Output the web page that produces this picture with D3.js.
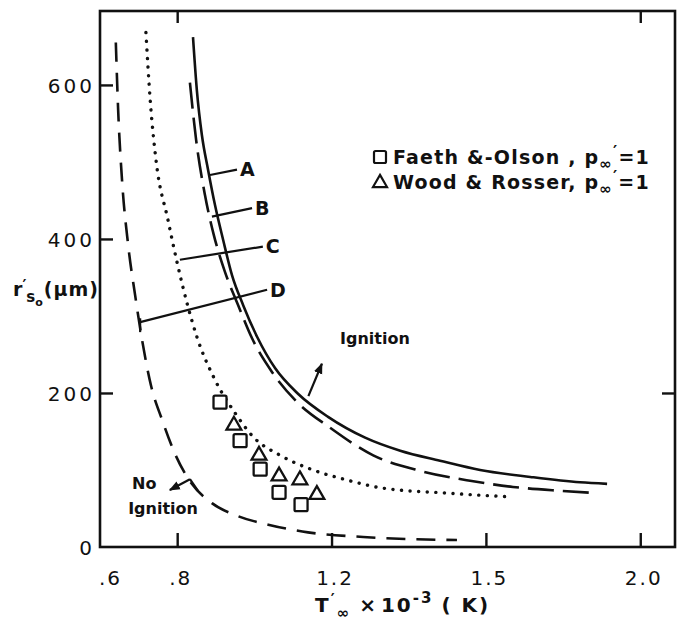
<!DOCTYPE html>
<html><head><meta charset="utf-8">
<script src="https://cdn.jsdelivr.net/npm/d3@7"></script>
<style>
body{margin:0;background:#fff;}
text{font-family:"DejaVu Sans",sans-serif;fill:#111;}
</style></head>
<body><svg id="c" width="682" height="623"></svg>
<script>
// ---- data ----
const xTickValues = [0.6, 0.8, 1.2, 1.6, 2.0];
const xTickLabels = [".6", ".8", "1.2", "1.5", "2.0"];
const yTickValues = [0, 200, 400, 600];
const yTickLabels = ["0", "200", "400", "600"];

const curveA = [[0.841,662],[0.851,593],[0.864,535],[0.880,490],[0.898,444],[0.919,399],[0.942,353],[0.971,314],[1.007,273],[1.054,232],[1.113,199],[1.191,169],[1.287,142],[1.378,125],[1.481,112],[1.585,100],[1.715,91],[1.844,84],[1.914,82]];
const curveB = [[0.833,603],[0.849,529],[0.872,457],[0.895,405],[0.924,357],[0.958,314],[0.994,271],[1.046,227],[1.111,188],[1.196,155],[1.308,119],[1.429,99],[1.559,86],[1.670,78],[1.792,73],[1.888,70]];
const curveC = [[0.719,668],[0.730,581],[0.745,503],[0.776,425],[0.800,369],[0.828,312],[0.851,273],[0.898,217],[0.950,174],[0.997,143],[1.067,119],[1.152,100],[1.240,87],[1.326,77],[1.499,70],[1.668,65]];
const curveD = [[0.641,655],[0.647,568],[0.657,477],[0.673,392],[0.691,327],[0.709,269],[0.732,210],[0.761,165],[0.797,118],[0.838,82],[0.890,57],[0.958,40],[1.036,29],[1.139,19],[1.282,13],[1.525,9]];

const faethOlson = [[0.911,188],[0.963,138],[1.015,101],[1.064,71],[1.121,55]];
const woodRosser = [[0.947,158],[1.012,119],[1.064,92],[1.118,87],[1.162,68]];

const curveLabels = [
  {name:"A", from:[0.885,483], to:[0.955,490]},
  {name:"B", from:[0.890,429], to:[0.994,440]},
  {name:"C", from:[0.807,373], to:[1.022,390]},
  {name:"D", from:[0.704,292], to:[1.033,334]}
];
const dTick = [[0.704,297],[0.704,279]];
const ignitionArrow = [[1.140,196],[1.175,238]];
const noIgnitionArrow = [[0.833,88],[0.781,74]];
const noIgnitionChevron = [[0.833,88],[0.854,73]];

// ---- layout ----
const svg = d3.select("#c");
const W = 682, H = 623;
const m = {left:100, top:11, right:7, bottom:76};
const x = d3.scaleLinear().domain([0.6, 2.09]).range([m.left, W - m.right]);
const y = d3.scaleLinear().domain([0, 696]).range([H - m.bottom, m.top]);

svg.append("defs").append("marker")
  .attr("id","ah").attr("viewBox","0 0 10 10").attr("refX",9).attr("refY",5)
  .attr("markerWidth",5).attr("markerHeight",5).attr("orient","auto")
  .append("path").attr("d","M0,1 L10,5 L0,9 z").attr("fill","#111");

// frame
svg.append("rect").attr("x",x.range()[0]).attr("y",y.range()[1])
  .attr("width",x.range()[1]-x.range()[0]).attr("height",y.range()[0]-y.range()[1])
  .attr("fill","none").attr("stroke","#111").attr("stroke-width",2.6);

// axes (inward ticks)
const xAxis = d3.axisBottom(x).tickValues(xTickValues).tickSize(-14)
  .tickFormat((d,i)=>xTickLabels[i]).tickPadding(24);
const gx = svg.append("g").attr("transform",`translate(0,${y(0)})`).call(xAxis);
gx.select(".domain").remove();
gx.selectAll(".tick line").attr("stroke","#111").attr("stroke-width",2.4)
  .filter(d=>d===0.6).remove();
gx.selectAll(".tick text").attr("font-size",20).attr("letter-spacing",2)
  .attr("dx",d=>d===0.6?10:3);

const yAxis = d3.axisLeft(y).tickValues(yTickValues).tickSize(-13)
  .tickFormat((d,i)=>yTickLabels[i]).tickPadding(5);
const gy = svg.append("g").attr("transform",`translate(${x(0.6)},0)`).call(yAxis);
gy.select(".domain").remove();
gy.selectAll(".tick line").attr("stroke","#111").attr("stroke-width",2.4)
  .filter(d=>d===0).remove();
gy.selectAll(".tick text").attr("font-size",20).attr("letter-spacing",3).attr("dy","0.38em");

// top ticks & right ticks
const gt = svg.append("g").attr("transform",`translate(0,${y.range()[1]})`)
  .call(d3.axisTop(x).tickValues([0.8,2.0]).tickSize(-12).tickFormat(""));
gt.select(".domain").remove();
gt.selectAll("line").attr("stroke","#111").attr("stroke-width",2.4);
const gr = svg.append("g").attr("transform",`translate(${x.range()[1]},0)`)
  .call(d3.axisRight(y).tickValues([200]).tickSize(-13).tickFormat(""));
gr.select(".domain").remove();
gr.selectAll("line").attr("stroke","#111").attr("stroke-width",2.4);

// curves
const line = d3.line().x(d=>x(d[0])).y(d=>y(d[1])).curve(d3.curveMonotoneX);
const curves = [
  {data:curveA, dash:null},
  {data:curveB, dash:"26 9"},
  {data:curveC, dash:"0.1 8.5"},
  {data:curveD, dash:"19 11"}
];
curves.forEach((c,i)=>{
  svg.append("path").attr("d",line(c.data)).attr("fill","none").attr("stroke","#111")
    .attr("stroke-width", i===2?3.4:2.6)
    .attr("stroke-linecap", i===2?"round":"butt")
    .attr("stroke-dasharray", c.dash);
});

// curve label leaders
const seg = d3.line().x(d=>x(d[0])).y(d=>y(d[1]));
curveLabels.forEach(l=>{
  svg.append("path").attr("d",seg([l.from,l.to])).attr("stroke","#111").attr("stroke-width",2.2);
  svg.append("text").attr("x",x(l.to[0])+3).attr("y",y(l.to[1])).attr("dy","0.36em")
    .attr("font-size",19).attr("font-weight","bold").text(l.name);
});
svg.append("path").attr("d",seg(dTick)).attr("stroke","#111").attr("stroke-width",2.2);

// arrows
svg.append("path").attr("d",seg(ignitionArrow)).attr("stroke","#111").attr("stroke-width",2.2).attr("marker-end","url(#ah)");
svg.append("path").attr("d",seg(noIgnitionArrow)).attr("stroke","#111").attr("stroke-width",2.2).attr("marker-end","url(#ah)");
svg.append("path").attr("d",seg(noIgnitionChevron)).attr("stroke","#111").attr("stroke-width",2.2);

svg.append("text").attr("x",x(1.222)).attr("y",y(264)).attr("font-size",16).attr("font-weight","bold").text("Ignition");
svg.append("text").attr("x",x(0.683)).attr("y",y(75)).attr("font-size",16).attr("font-weight","bold").text("No");
svg.append("text").attr("x",x(0.673)).attr("y",y(43)).attr("font-size",16).attr("font-weight","bold").text("Ignition");

// data markers
const sq = 13;
svg.selectAll(".sq").data(faethOlson).enter().append("rect")
  .attr("x",d=>x(d[0])-sq/2).attr("y",d=>y(d[1])-sq/2).attr("width",sq).attr("height",sq).attr("rx",1.5)
  .attr("fill","#fff").attr("stroke","#111").attr("stroke-width",2.3);
const tri = d3.symbol().type(d3.symbolTriangle).size(95);
svg.selectAll(".tr").data(woodRosser).enter().append("path")
  .attr("d",tri).attr("transform",d=>`translate(${x(d[0])},${y(d[1])})`)
  .attr("fill","#fff").attr("stroke","#111").attr("stroke-width",2.3);

// legend
const lg = svg.append("g");
lg.append("rect").attr("x",374).attr("y",151).attr("width",12).attr("height",12).attr("rx",1.5)
  .attr("fill","#fff").attr("stroke","#111").attr("stroke-width",2.2);
lg.append("path").attr("d",d3.symbol().type(d3.symbolTriangle).size(85)).attr("transform","translate(380,183)")
  .attr("fill","#fff").attr("stroke","#111").attr("stroke-width",2.2);
function legendText(yy, name){
  const t = lg.append("text").attr("x",393).attr("y",yy).attr("font-size",19).attr("font-weight","bold").attr("letter-spacing",1.2);
  t.append("tspan").text(name + " p");
  t.append("tspan").attr("font-size",15).attr("dy",5).text("∞");
  t.append("tspan").attr("font-size",16).attr("dy",-12).text("′");
  t.append("tspan").attr("dy",7).text("=1");
}
legendText(164, "Faeth &-Olson ,");
legendText(189, "Wood & Rosser,");

// y label
const yl = svg.append("text").attr("x",13).attr("y",296).attr("font-size",19).attr("font-weight","bold");
yl.append("tspan").text("r");
yl.append("tspan").attr("font-size",15).attr("dy",-5).text("′");
yl.append("tspan").attr("font-size",15).attr("dy",11).text("s");
yl.append("tspan").attr("font-size",11).attr("dy",4).text("o");
yl.append("tspan").attr("dx",1).attr("dy",-10).attr("letter-spacing",1).text("(μm)");

// x label
const xl = svg.append("text").attr("x",315).attr("y",612).attr("font-size",20).attr("font-weight","bold").attr("letter-spacing",2);
xl.append("tspan").text("T");
xl.append("tspan").attr("font-size",15).attr("dy",-7).text("′");
xl.append("tspan").attr("font-size",15).attr("dy",13).text("∞");
xl.append("tspan").attr("dx",8).attr("dy",-6).text("×");
xl.append("tspan").attr("dx",3).text("10");
xl.append("tspan").attr("font-size",15).attr("dy",-9).text("-3");
xl.append("tspan").attr("dy",9).attr("dx",8).attr("letter-spacing",2).text("( K)");
</script></body></html>
